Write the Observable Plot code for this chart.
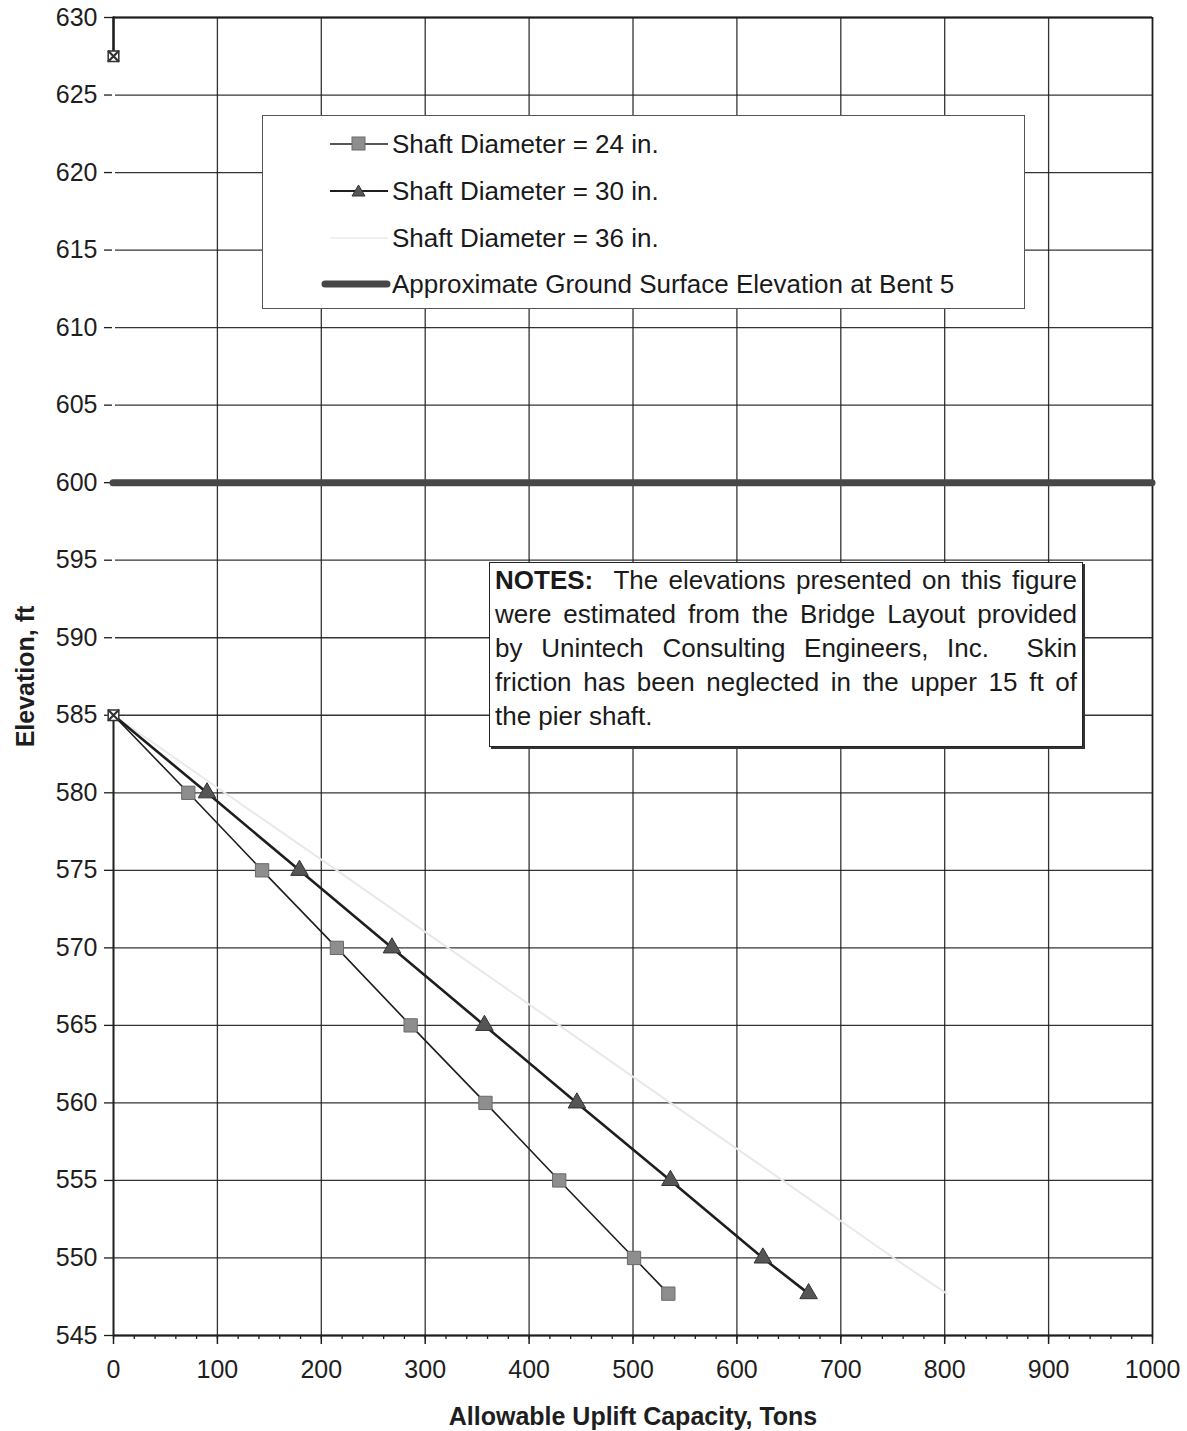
<!DOCTYPE html>
<html>
<head>
<meta charset="utf-8">
<script src="https://cdn.jsdelivr.net/npm/d3@7"></script>
<script src="https://cdn.jsdelivr.net/npm/@observablehq/plot@0.6"></script>
<style>
  body { margin: 0; background: #fff; font-family: "Liberation Sans", Arial, sans-serif; color: #1a1a1a; }
  #wrap { position: relative; width: 1187px; height: 1431px; overflow: hidden; }
  #legend { position: absolute; left: 262px; top: 115px; width: 761px; height: 192px;
            border: 1px solid #555; background: #fff; box-sizing: content-box; }
  .lrow { position: absolute; left: 62px; height: 34px; font-size: 26px; white-space: nowrap; }
  .lrow svg { position: absolute; left: -6px; top: 7px; }
  .lrow span { position: absolute; left: 67px; top: 0; line-height: 34px; }
  #notes { position: absolute; left: 489px; top: 562px; width: 582px; height: 183px;
           border: 1.5px solid #222; box-shadow: 2px 2px 0 #333; background: #fff;
           padding: 0 5px; font-size: 26px; line-height: 34px; }
  #notes div { text-align: justify; text-align-last: justify; }
  #notes div.last { text-align-last: left; }
</style>
</head>
<body>
<div id="wrap"></div>
<script>
// ---- data ----
const elevation = [585, 580, 575, 570, 565, 560, 555, 550, 547.7];
const capacity24 = [0, 72, 143, 215, 286, 358, 429, 501, 534];
const capacity30 = [0, 90, 179, 268, 357, 446, 536, 625, 669];
const capacity36 = [0, 107, 215, 322, 429, 536, 644, 751, 802];
const seriesNames = ["Shaft Diameter = 24 in.", "Shaft Diameter = 30 in.", "Shaft Diameter = 36 in."];
const groundName = "Approximate Ground Surface Elevation at Bent 5";
const groundElevation = [600];
const markerCapacity = [0, 0];
const markerElevation = [627.5, 585];
const stubElevation = [630, 627.5];
const axisElevation = [585, 545];
const xTicks = [0, 100, 200, 300, 400, 500, 600, 700, 800, 900, 1000];
const xMinorTicks = d3.range(0, 1001, 20);
const yTicks = [545, 550, 555, 560, 565, 570, 575, 580, 585, 590, 595, 600, 605, 610, 615, 620, 625, 630];
const xLabel = "Allowable Uplift Capacity, Tons";
const yLabel = "Elevation, ft";
const noteLines = [
  ["NOTES:", "  The elevations presented on this figure"],
  ["", "were estimated from the Bridge Layout provided"],
  ["", "by Unintech Consulting Engineers, Inc.  Skin"],
  ["", "friction has been neglected in the upper 15 ft of"],
  ["", "the pier shaft."]
];

// ---- tables ----
const rows = (caps) => elevation.map((e, i) => ({x: caps[i], y: e}));
const s24 = rows(capacity24), s30 = rows(capacity30), s36 = rows(capacity36);
const markers = markerCapacity.map((c, i) => ({x: c, y: markerElevation[i]}));
const stub = stubElevation.map(e => ({x: 0, y: e}));
const axisSeg = axisElevation.map(e => ({x: 0, y: e}));
const ink = "#1e1e1e";
const xMin = xTicks[0];

const chart = Plot.plot({
  width: 1187, height: 1431,
  marginLeft: 113, marginRight: 35, marginTop: 17, marginBottom: 96,
  x: {domain: [0, 1000]},
  y: {domain: [545, 630]},
  style: {fontFamily: "'Liberation Sans', Arial, sans-serif", color: ink, background: "white", overflow: "visible"},
  marks: [
    Plot.gridX(xTicks.filter(t => t > xMin), {stroke: ink, strokeOpacity: 0.9, strokeWidth: 1.3}),
    Plot.gridY(yTicks, {stroke: ink, strokeOpacity: 0.9, strokeWidth: 1.3}),
    Plot.ruleY([630], {stroke: ink, strokeWidth: 2}),
    Plot.ruleY([545], {stroke: ink, strokeWidth: 2}),
    Plot.ruleX([1000], {stroke: ink, strokeWidth: 1.6}),
    Plot.line(axisSeg, {x: "x", y: "y", stroke: ink, strokeWidth: 2}),
    Plot.axisX(xMinorTicks, {tickSize: 4, tickFormat: () => "", label: null, strokeWidth: 1.3}),
    Plot.axisX(xTicks, {tickSize: 9, tickPadding: 16, fontSize: 25, label: null, strokeWidth: 1.5, tickFormat: d => String(d)}),
    Plot.axisY(yTicks, {tickSize: 9, tickPadding: 7, fontSize: 25, label: null, strokeWidth: 1.3}),
    Plot.line(s36, {x: "x", y: "y", stroke: "#e9e9e9", strokeWidth: 2}),
    Plot.line(s24, {x: "x", y: "y", stroke: ink, strokeWidth: 1.6}),
    Plot.line(s30, {x: "x", y: "y", stroke: ink, strokeWidth: 2.6}),
    Plot.dot(s24.slice(1), {x: "x", y: "y", symbol: "square", r: 7.5, fill: "#8e8e8e", stroke: "#6a6a6a", strokeWidth: 1}),
    Plot.dot(s30.slice(1), {x: "x", y: "y", symbol: "triangle", r: 6.5, fill: "#555", stroke: "#333", strokeWidth: 1}),
    // white segment between the two markers (as in the source, it hides the axis there)
    Plot.line(markers, {x: "x", y: "y", stroke: "white", strokeWidth: 3}),
    Plot.ruleY(groundElevation, {x1: 0, x2: 1000, stroke: "#474747", strokeWidth: 7, strokeLinecap: "round"}),
    Plot.line(stub, {x: "x", y: "y", stroke: ink, strokeWidth: 2.6}),
    Plot.dot(markers, {x: "x", y: "y", symbol: "square", r: 6, fill: "white", stroke: "#333", strokeWidth: 1.5}),
    Plot.dot(markers, {x: "x", y: "y", symbol: "times", r: 5, stroke: "#333", strokeWidth: 2.2}),
    Plot.text([xLabel], {frameAnchor: "bottom", dy: 89, fontSize: 25, fontWeight: "bold", fill: ink}),
    Plot.text([yLabel], {frameAnchor: "left", dx: -88, rotate: -90, textAnchor: "middle", fontSize: 25, fontWeight: "bold", fill: ink})
  ]
});

const wrap = document.getElementById("wrap");
wrap.appendChild(chart);

// ---- legend ----
const legend = document.createElement("div");
legend.id = "legend";
const sw = [
  `<svg width="70" height="20"><line x1="11" y1="10" x2="69" y2="10" stroke="${ink}" stroke-width="1.6"/><rect x="33" y="3" width="13" height="13" fill="#8e8e8e" stroke="#6a6a6a"/></svg>`,
  `<svg width="70" height="20"><line x1="11" y1="10" x2="69" y2="10" stroke="${ink}" stroke-width="2.2"/><path d="M39.5,4 L46,15 L33,15 Z" fill="#555" stroke="#333"/></svg>`,
  `<svg width="70" height="20"><line x1="11" y1="10" x2="69" y2="10" stroke="#f0f0f0" stroke-width="2"/></svg>`,
  `<svg width="72" height="20"><line x1="6" y1="10" x2="68" y2="10" stroke="#474747" stroke-width="7" stroke-linecap="round"/></svg>`
];
const names = [...seriesNames, groundName];
const rowTops = [11, 58, 105, 151];
names.forEach((n, i) => {
  const r = document.createElement("div");
  r.className = "lrow";
  r.style.top = rowTops[i] + "px";
  r.innerHTML = sw[i] + `<span>${n}</span>`;
  legend.appendChild(r);
});
wrap.appendChild(legend);

// ---- notes ----
const notes = document.createElement("div");
notes.id = "notes";
noteLines.forEach((l, i) => {
  const d = document.createElement("div");
  if (i === noteLines.length - 1) d.className = "last";
  d.innerHTML = (l[0] ? `<b>${l[0]}</b>` : "") + l[1].replace("  ", "&nbsp; ");
  notes.appendChild(d);
});
wrap.appendChild(notes);
</script>
</body>
</html>
